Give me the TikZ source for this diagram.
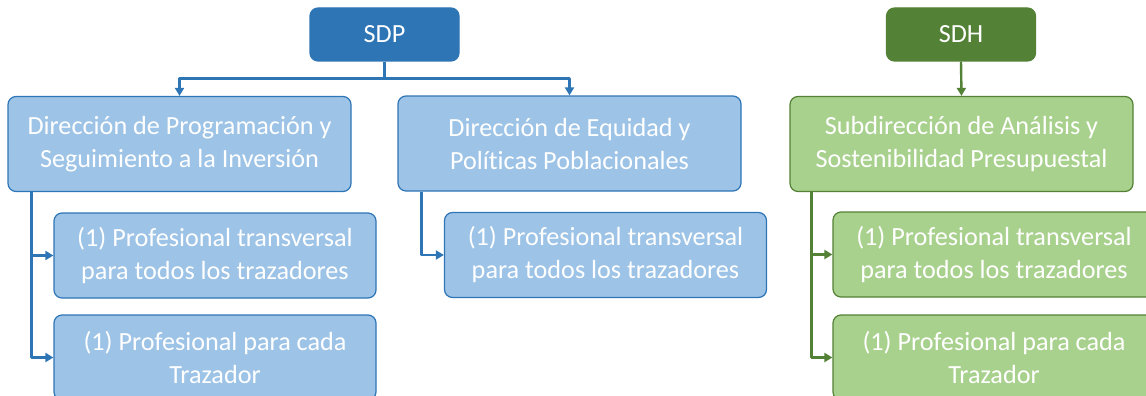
\documentclass[tikz,border=0pt]{standalone}
\usepackage{fontspec}
\setmainfont{Carlito}[Ligatures=NoCommon]
\usetikzlibrary{arrows.meta}
\definecolor{azulosc}{HTML}{2E75B6}
\definecolor{azulcla}{HTML}{9DC3E6}
\definecolor{verdeosc}{HTML}{538135}
\definecolor{verdecla}{HTML}{A9D18E}
\begin{document}
\begin{tikzpicture}[x=1pt,y=-1pt,line join=round,
		caja/.style={rounded corners=8pt,line width=1.2pt,align=center,text=white,inner sep=0pt,
			font=\fontsize{26.2}{33}\selectfont},
		jefe/.style={caja,minimum width=149pt,minimum height=53pt},
		dir/.style={caja,minimum width=343pt,minimum height=95pt},
		prof/.style={caja,minimum width=322pt,minimum height=85pt},
		azul/.style={draw=azulosc,fill=azulcla},
		verde/.style={draw=verdeosc,fill=verdecla},
		conn/.style={line width=2.4pt,-{Triangle[length=8pt,width=9pt]}}]
	\useasboundingbox (0,0) rectangle (1146,396);
	% cabezas
	\node[jefe,draw=azulosc,fill=azulosc] (sdp) at (384.5,34.5) {SDP};
	\node[jefe,draw=verdeosc,fill=verdeosc] (sdh) at (961,34.5) {SDH};
	% direcciones
	\node[dir,azul] (progr) at (179.5,144) {Dirección de Programación y\\Seguimiento a la Inversión};
	\node[dir,azul] (equid) at (569.5,143.5) {Dirección de Equidad y\\Políticas Poblacionales};
	\node[dir,verde] (subd) at (961.5,144) {Subdirección de Análisis y\\Sostenibilidad Presupuestal};
	% profesionales
	\node[prof,azul] (pa1) at (215,255.5) {(1) Profesional transversal\\para todos los trazadores};
	\node[prof,azul] (pa2) at (215,357.5) {(1) Profesional para cada\\Trazador};
	\node[prof,azul] (pb1) at (605.5,255) {(1) Profesional transversal\\para todos los trazadores};
	\node[prof,verde] (pc1) at (994,254.5) {(1) Profesional transversal\\para todos los trazadores};
	\node[prof,verde] (pc2) at (994,357.5) {(1) Profesional para cada\\Trazador};
	% conectores
	\draw[conn,azulosc] (sdp.south) -- ++(0,17) -| (progr.north);
	\draw[conn,azulosc] (sdp.south) -- ++(0,17) -| (equid.north);
	\draw[conn,verdeosc] (sdh.south) -- (subd.north);
	\draw[conn,azulosc] ([xshift=24pt]progr.south west) |- (pa1.west);
	\draw[conn,azulosc] ([xshift=24pt]progr.south west) |- (pa2.west);
	\draw[conn,azulosc] ([xshift=24pt]equid.south west) |- (pb1.west);
	\draw[conn,verdeosc] ([xshift=22pt]subd.south west) |- (pc1.west);
	\draw[conn,verdeosc] ([xshift=22pt]subd.south west) |- (pc2.west);
\end{tikzpicture}
\end{document}
